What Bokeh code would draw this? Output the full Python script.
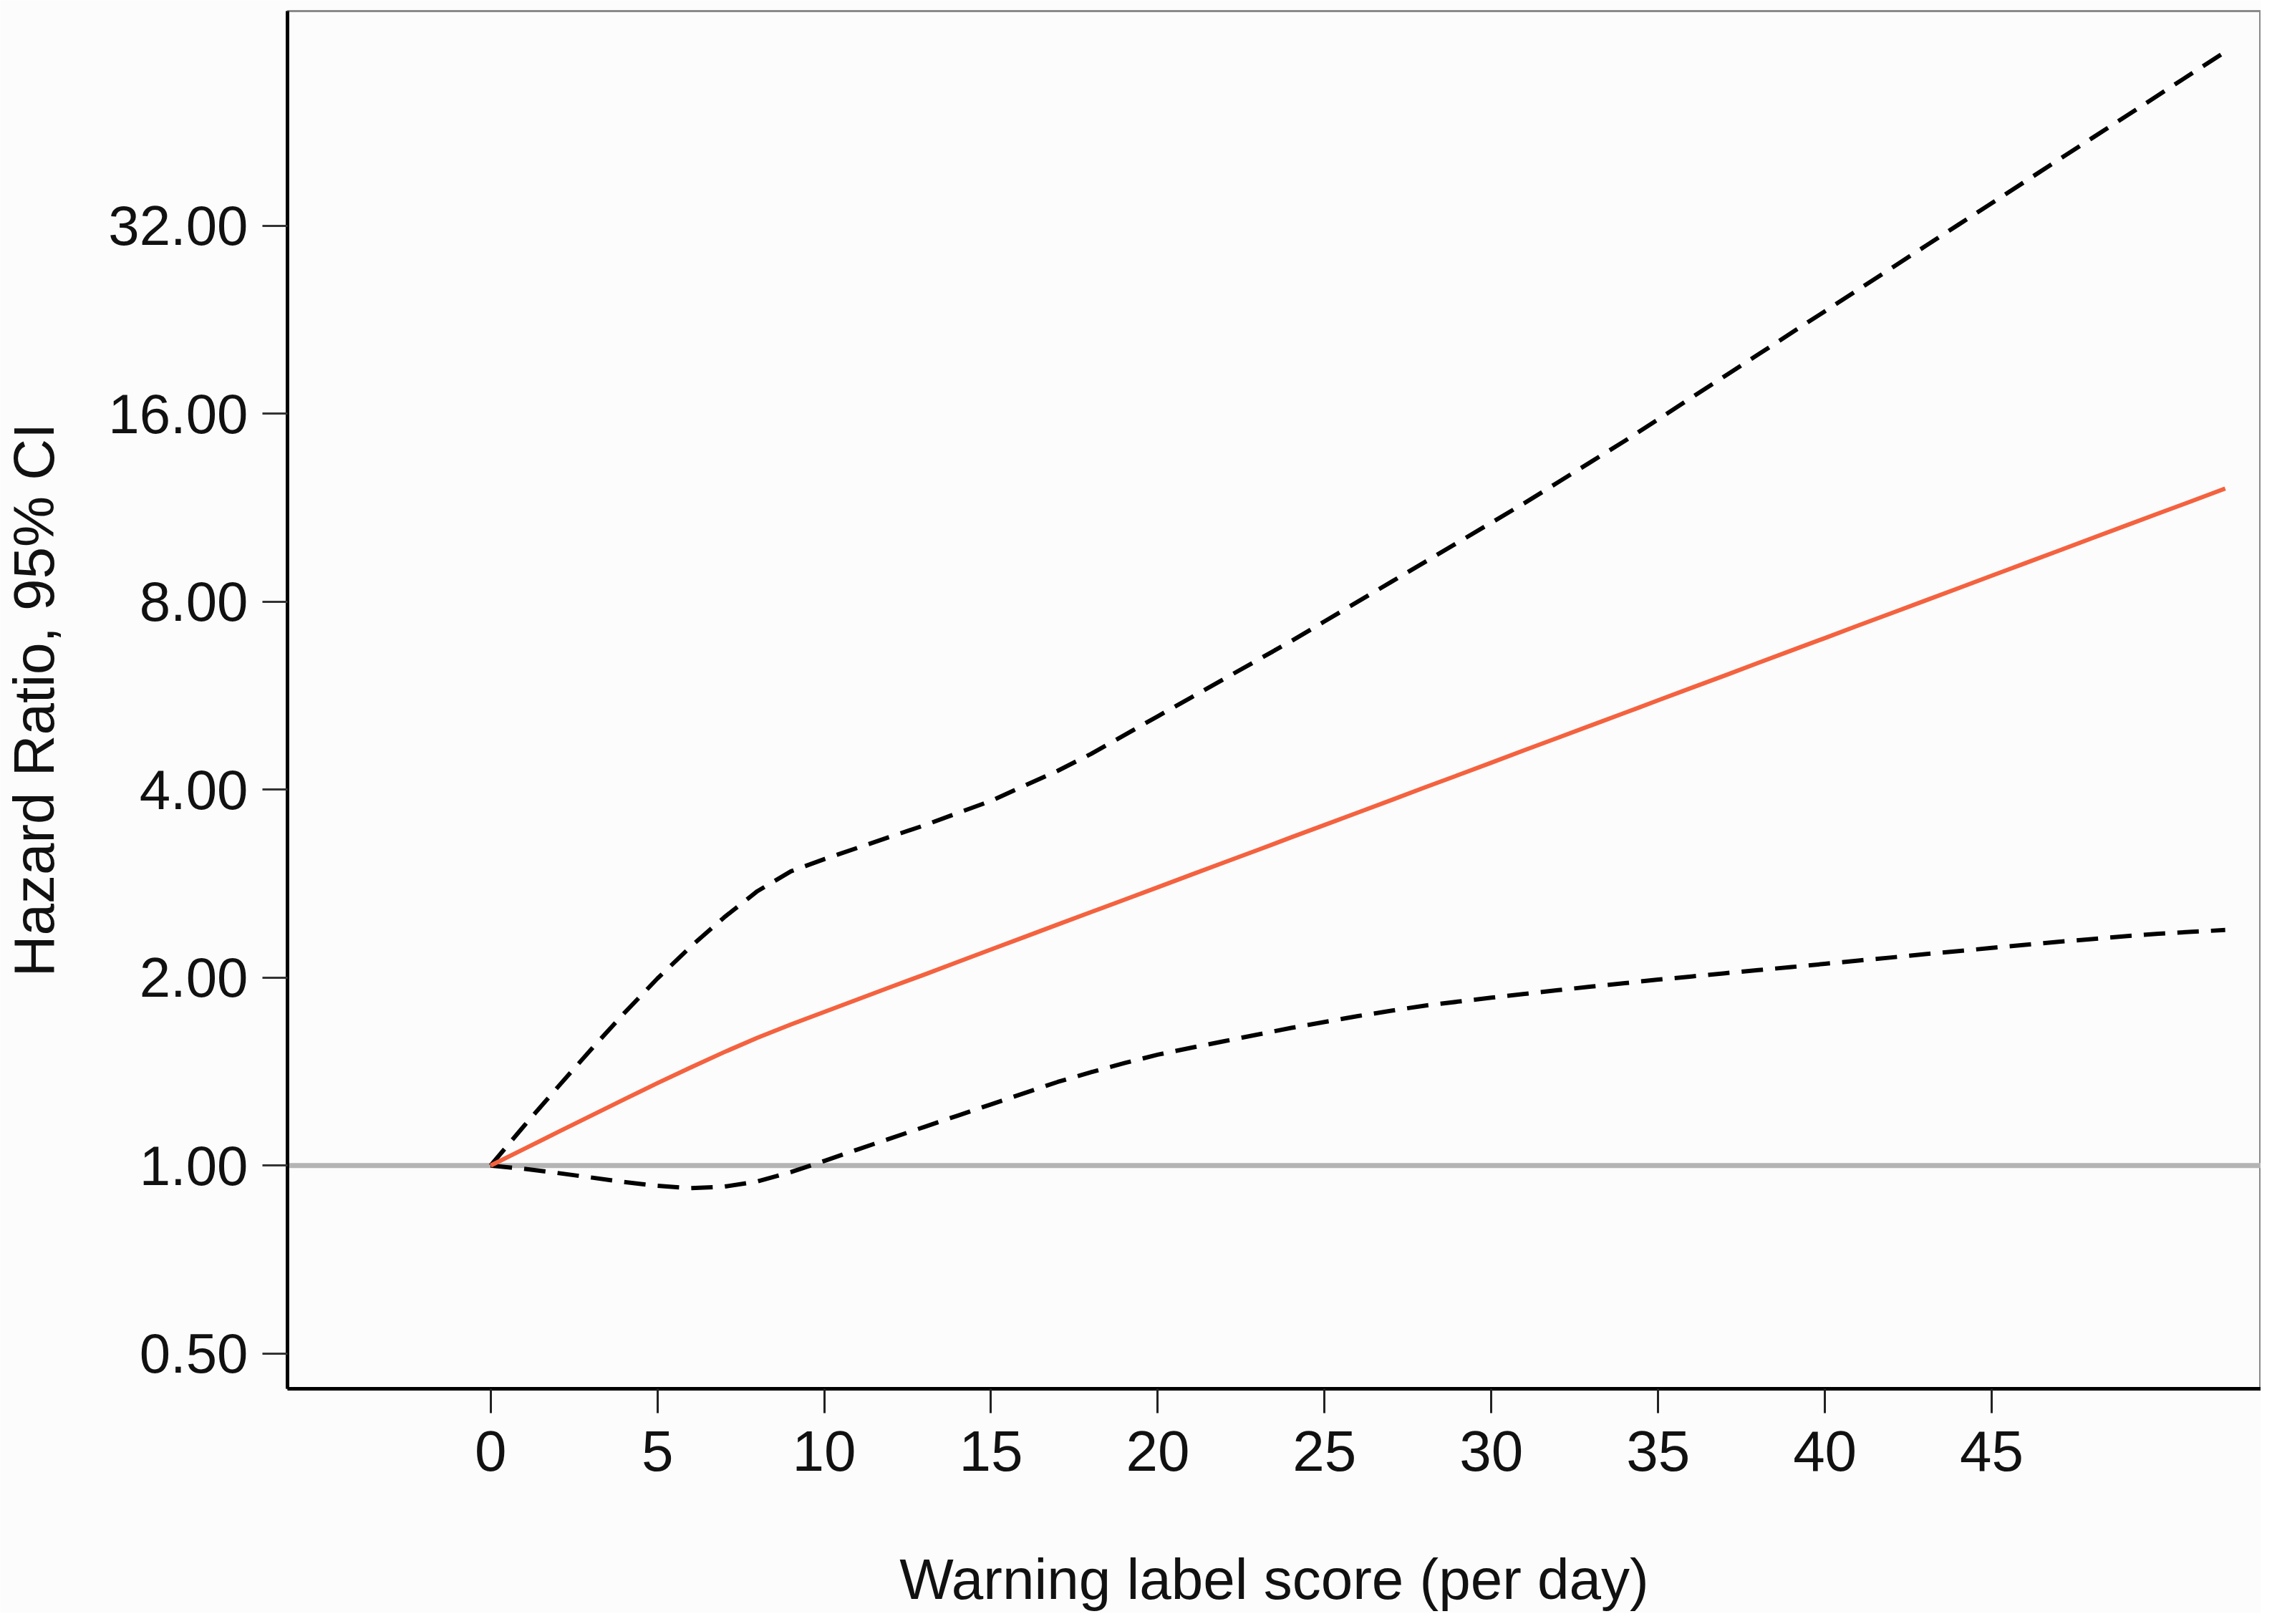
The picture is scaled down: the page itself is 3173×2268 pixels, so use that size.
from bokeh.plotting import figure
from bokeh.models import Range1d, FixedTicker, PrintfTickFormatter, Span, ColumnDataSource
from bokeh.embed import file_html
from bokeh.resources import INLINE

# Warning label score (per day)
score = [0, 1, 2, 3, 4, 5, 6, 7, 8, 9, 10, 11, 12, 13, 14, 15, 16, 17, 18,
         19, 20, 21, 22, 23, 24, 25, 26, 27, 28, 29, 30, 31, 32, 33, 34, 35,
         36, 37, 38, 39, 40, 41, 42, 43, 44, 45, 46, 47, 48, 49, 50, 51, 52]
# Hazard ratio (point estimate)
hr = [1.000, 1.063, 1.130, 1.201, 1.276, 1.355, 1.436, 1.519, 1.602, 1.682,
      1.762, 1.845, 1.932, 2.022, 2.118, 2.218, 2.322, 2.432, 2.546, 2.665,
      2.790, 2.922, 3.059, 3.202, 3.354, 3.511, 3.676, 3.848, 4.031, 4.219,
      4.417, 4.627, 4.844, 5.071, 5.308, 5.560, 5.820, 6.093, 6.382, 6.681,
      6.994, 7.326, 7.669, 8.028, 8.404, 8.803, 9.215, 9.647, 10.105, 10.578,
      11.074, 11.592, 12.141]
# 95% CI upper bound
ci_upper = [1.000, 1.157, 1.333, 1.532, 1.753, 1.993, 2.242, 2.497, 2.751,
            2.959, 3.095, 3.227, 3.364, 3.506, 3.668, 3.837, 4.056, 4.287,
            4.563, 4.891, 5.242, 5.618, 6.021, 6.453, 6.916, 7.438, 8.000,
            8.604, 9.254, 9.952, 10.703, 11.511, 12.423, 13.408, 14.47, 15.67,
            16.97, 18.38, 19.90, 21.56, 23.34, 25.28, 27.38, 29.65, 32.11,
            34.77, 37.66, 40.79, 44.17, 47.83, 51.80, 56.10, 60.76]
# 95% CI lower bound
ci_lower = [1.000, 0.988, 0.973, 0.957, 0.941, 0.928, 0.920, 0.925, 0.943,
            0.976, 1.017, 1.061, 1.106, 1.153, 1.202, 1.253, 1.306, 1.361,
            1.411, 1.459, 1.505, 1.544, 1.582, 1.621, 1.661, 1.698, 1.735,
            1.770, 1.803, 1.830, 1.857, 1.883, 1.909, 1.935, 1.959, 1.985,
            2.008, 2.032, 2.056, 2.079, 2.104, 2.129, 2.154, 2.180, 2.205,
            2.231, 2.256, 2.282, 2.305, 2.329, 2.351, 2.368, 2.383]

x_ticks = [0, 5, 10, 15, 20, 25, 30, 35, 40, 45]
y_ticks = [0.5, 1, 2, 4, 8, 16, 32]
reference_hr = 1.0

src = ColumnDataSource(dict(x=score, hr=hr, up=ci_upper, lo=ci_lower))

FONT = "Liberation Sans"
BG = "#fcfcfc"

p = figure(width=3157, height=2252, y_axis_type="log",
           x_range=Range1d(-6.09, 53.07), y_range=Range1d(0.439, 70.6),
           output_backend="svg", toolbar_location=None,
           min_border_left=395, min_border_right=0, min_border_top=15,
           min_border_bottom=312)

p.background_fill_color = BG
p.border_fill_color = BG
p.outline_line_color = "#8a8a8a"
p.outline_line_width = 3
p.xgrid.visible = False
p.ygrid.visible = False

p.add_layout(Span(location=reference_hr, dimension="width",
                  line_color="#b4b4b4", line_width=7, level="underlay"))

p.line("x", "up", source=src, line_color="black", line_width=6,
       line_dash="30 17", line_join="round")
p.line("x", "lo", source=src, line_color="black", line_width=6,
       line_dash="30 17", line_join="round")
p.line("x", "hr", source=src, line_color="#f4623f", line_width=6,
       line_join="round")

xa = p.xaxis[0]
xa.ticker = FixedTicker(ticks=x_ticks)
xa.minor_tick_line_color = None
xa.major_tick_in = 0
xa.major_tick_out = 34
xa.major_tick_line_width = 3
xa.major_tick_line_color = "#222222"
xa.axis_line_width = 5
xa.axis_line_color = "black"
xa.major_label_text_font = FONT
xa.major_label_text_font_size = "80px"
xa.major_label_text_color = "#111111"
xa.major_label_standoff = 25
xa.axis_label = "Warning label score (per day)"
xa.axis_label_text_font = FONT
xa.axis_label_text_font_size = "80px"
xa.axis_label_text_font_style = "normal"
xa.axis_label_text_color = "#111111"
xa.axis_label_standoff = 104

ya = p.yaxis[0]
ya.ticker = FixedTicker(ticks=y_ticks)
ya.formatter = PrintfTickFormatter(format="%.2f")
ya.minor_tick_line_color = None
ya.major_tick_in = 0
ya.major_tick_out = 35
ya.major_tick_line_width = 3
ya.major_tick_line_color = "#333333"
ya.axis_line_width = 5
ya.axis_line_color = "black"
ya.major_label_text_font = FONT
ya.major_label_text_font_size = "78px"
ya.major_label_text_color = "#111111"
ya.major_label_standoff = 20
ya.axis_label = "Hazard Ratio, 95% CI"
ya.axis_label_text_font = FONT
ya.axis_label_text_font_size = "80px"
ya.axis_label_text_font_style = "normal"
ya.axis_label_text_color = "#111111"
ya.axis_label_standoff = 56

open("out.html", "w").write(file_html(p, INLINE))
